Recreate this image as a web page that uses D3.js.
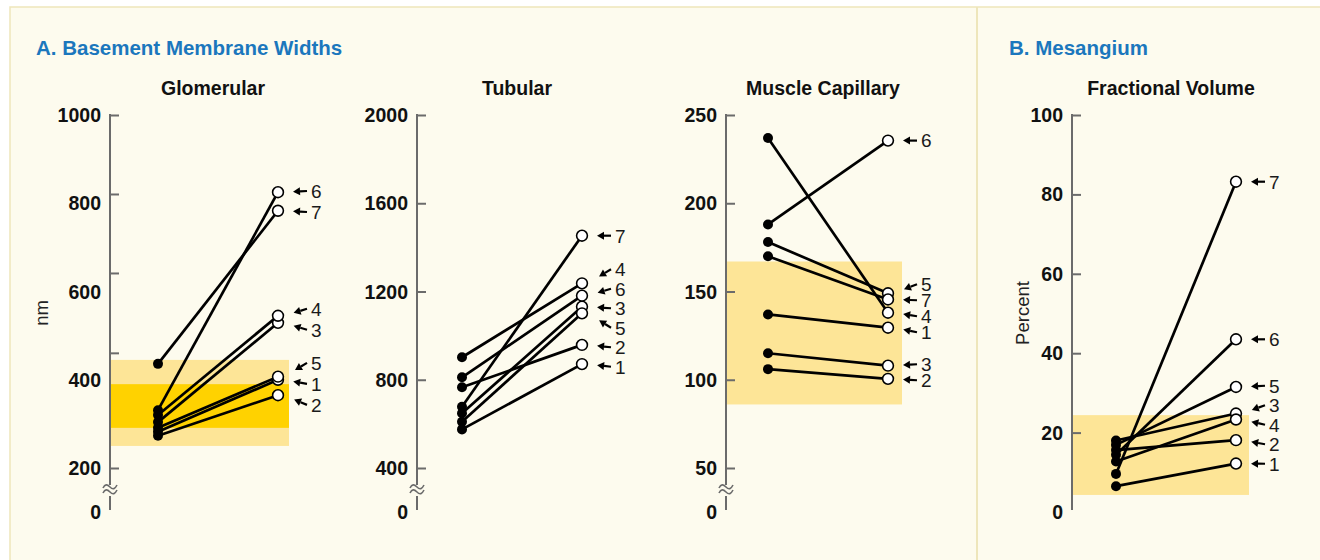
<!DOCTYPE html>
<html>
<head>
<meta charset="utf-8">
<script src="https://cdn.jsdelivr.net/npm/d3@7"></script>
<style>
  body { margin: 0; background: #fff; }
  svg { display: block; font-family: "Liberation Sans", Arial, sans-serif; }
</style>
</head>
<body>
<div id="chart"></div>
<script>
// patients 1..7, pre (filled) and post (open) values
const patients = [1, 2, 3, 4, 5, 6, 7];

const glomPre  = [282, 273, 304, 320, 291, 331, 436];
const glomPost = [400, 365, 529, 545, 407, 825, 783];

const tubPre  = [575, 766, 648, 902, 610, 811, 678];
const tubPost = [871, 958, 1131, 1237, 1101, 1181, 1453];

const musPre  = [137, 106, 115, 237, 178, 188, 170];
const musPost = [129.5, 100.5, 108, 138, 149, 235.5, 145.5];

const fracPre  = [6.5, 15.6, 18.0, 12.7, 16.9, 14.4, 9.6];
const fracPost = [12.2, 18.1, 24.8, 23.3, 31.5, 43.5, 83.2];

// tick labels and tick marks (the glomerular marks are not under their labels in the original)
const glomLabels = [1000, 800, 600, 400, 200];
const glomTicks  = [1000, 821, 642, 461, 200];
const tubLabels  = [2000, 1600, 1200, 800, 400];
const musLabels  = [250, 200, 150, 100, 50];
const fracLabels = [100, 80, 60, 40, 20];

// normal ranges (shaded)
const glomRange  = [250, 445];
const glomRange2 = [291, 390];
const musRange   = [86, 167];
const fracRange  = [4.3, 24.4];

const W = 1320, H = 560;
const yTop = 115, yLow = 468, zeroY = 512;

const svg = d3.select('#chart').append('svg')
  .attr('width', W)
  .attr('height', H);

// frame
svg.append('rect')
  .attr('x', 10).attr('y', 7)
  .attr('width', W + 10).attr('height', H)
  .attr('fill', '#fdfbee')
  .attr('stroke', '#eee6bb')
  .attr('stroke-width', 1.5);

svg.append('line')
  .attr('x1', 977).attr('x2', 977)
  .attr('y1', 7).attr('y2', H)
  .attr('stroke', '#eee6bb')
  .attr('stroke-width', 2);

svg.append('text')
  .attr('x', 36).attr('y', 55)
  .attr('fill', '#1b77bd')
  .attr('font-size', 20.5)
  .attr('font-weight', 'bold')
  .text('A. Basement Membrane Widths');

svg.append('text')
  .attr('x', 1009).attr('y', 55)
  .attr('fill', '#1b77bd')
  .attr('font-size', 20.5)
  .attr('font-weight', 'bold')
  .text('B. Mesangium');

var panels = [
  { title: 'Glomerular', axisX: 110, preX: 158, pre: glomPre, post: glomPost,
    y: d3.scaleLinear().domain([200, 1000]).range([yLow, yTop]),
    labels: glomLabels, ticks: glomTicks, broken: true, gap: 21,
    bands: [glomRange, glomRange2], bandColors: ['#fde597', '#ffd200'], bandW: 179, unit: 'nm' },
  { title: 'Tubular', axisX: 417, preX: 462, pre: tubPre, post: tubPost,
    y: d3.scaleLinear().domain([400, 2000]).range([yLow, yTop]),
    labels: tubLabels, ticks: tubLabels, broken: true, gap: 19.5, bands: [] },
  { title: 'Muscle Capillary', axisX: 726, preX: 768, pre: musPre, post: musPost,
    y: d3.scaleLinear().domain([50, 250]).range([yLow, yTop]),
    labels: musLabels, ticks: musLabels, broken: true, gap: 16,
    bands: [musRange], bandColors: ['#fde597'], bandW: 176 },
  { title: 'Fractional Volume', axisX: 1072, preX: 1116, pre: fracPre, post: fracPost,
    y: d3.scaleLinear().domain([0, 100]).range([zeroY, yTop]),
    labels: fracLabels, ticks: fracLabels, broken: false, gap: 19.5,
    bands: [fracRange], bandColors: ['#fde597'], bandW: 177, unit: 'Percent' }
];

const axisGray = '#6b6b6b';
const tickFont = 19.5;

panels.forEach(function (p) {
  const g = svg.append('g');
  const x = d3.scalePoint().domain(['pre', 'post']).range([p.preX, p.preX + 120]);
  const y = p.y;

  g.append('text')
    .attr('x', p.preX + 55).attr('y', 95)
    .attr('text-anchor', 'middle')
    .attr('font-size', 19.5)
    .attr('font-weight', 'bold')
    .attr('fill', '#111')
    .text(p.title);

  // shaded normal ranges
  p.bands.forEach(function (b, i) {
    g.append('rect')
      .attr('x', p.axisX)
      .attr('y', y(b[1]))
      .attr('width', p.bandW)
      .attr('height', y(b[0]) - y(b[1]))
      .attr('fill', p.bandColors[i]);
  });

  // axis: ticks to the right, labels on the left
  const axis = d3.axisRight(y)
    .tickValues(p.ticks)
    .tickSize(9)
    .tickFormat('');
  const ax = g.append('g')
    .attr('transform', 'translate(' + p.axisX + ',0)')
    .call(axis);
  ax.select('.domain').remove();
  ax.selectAll('.tick line').attr('stroke', axisGray).attr('stroke-width', 2);

  g.append('line')
    .attr('x1', p.axisX).attr('x2', p.axisX)
    .attr('y1', yTop - 1).attr('y2', 510)
    .attr('stroke', axisGray).attr('stroke-width', 2);

  g.selectAll('.lbl')
    .data(p.labels)
    .enter().append('text')
    .attr('x', p.axisX - 9)
    .attr('y', d => y(d))
    .attr('dy', '0.36em')
    .attr('text-anchor', 'end')
    .attr('font-size', tickFont)
    .attr('font-weight', 'bold')
    .attr('fill', '#111')
    .text(d => d);

  g.append('text')
    .attr('x', p.axisX - 9).attr('y', p.broken ? zeroY : y(0))
    .attr('dy', '0.36em')
    .attr('text-anchor', 'end')
    .attr('font-size', tickFont)
    .attr('font-weight', 'bold')
    .attr('fill', '#111')
    .text('0');

  if (p.broken) {
    // break mark
    g.append('rect')
      .attr('x', p.axisX - 3).attr('y', 485)
      .attr('width', 6).attr('height', 11)
      .attr('fill', '#fdfbee');
    [0, 5].forEach(function (dy) {
      g.append('path')
        .attr('d', 'M' + (p.axisX - 7) + ',' + (488 + dy) +
          ' c2,-4 4,-4 7,-1 s5,2 7,-2')
        .attr('fill', 'none')
        .attr('stroke', axisGray)
        .attr('stroke-width', 1.6);
    });
  }

  if (p.unit) {
    const ux = p.unit === 'nm' ? 42 : 1023;
    g.append('text')
      .attr('transform', 'translate(' + ux + ',313) rotate(-90)')
      .attr('text-anchor', 'middle')
      .attr('dy', '0.35em')
      .attr('font-size', 18.5)
      .attr('fill', '#222')
      .text(p.unit);
  }

  const rows = patients.map((id, i) => ({ id: id, pre: p.pre[i], post: p.post[i] }));

  g.selectAll('.conn')
    .data(rows)
    .enter().append('line')
    .attr('x1', x('pre')).attr('y1', d => y(d.pre))
    .attr('x2', x('post')).attr('y2', d => y(d.post))
    .attr('stroke', '#000')
    .attr('stroke-width', 2.7);

  g.selectAll('.pre')
    .data(rows)
    .enter().append('circle')
    .attr('cx', x('pre')).attr('cy', d => y(d.pre))
    .attr('r', 5)
    .attr('fill', '#000');

  g.selectAll('.post')
    .data(rows)
    .enter().append('circle')
    .attr('cx', x('post')).attr('cy', d => y(d.post))
    .attr('r', 5.4)
    .attr('fill', '#fff')
    .attr('stroke', '#000')
    .attr('stroke-width', 1.6);

  // patient labels: spread them apart, arrows point back to the circles
  const labs = rows.map(d => ({ id: d.id, cy: y(d.post), ly: y(d.post) }))
    .sort((a, b) => a.cy - b.cy);
  for (let k = 0; k < 400; k++) {
    for (let i = 0; i < labs.length - 1; i++) {
      const diff = labs[i + 1].ly - labs[i].ly;
      if (diff < p.gap) {
        const s = (p.gap - diff) / 2;
        labs[i].ly -= s;
        labs[i + 1].ly += s;
      }
    }
  }

  const cx = x('post');
  labs.forEach(function (l) {
    const tx = cx + 29, ty = l.ly;
    let vx = (cx + 6) - tx, vy = l.cy - ty;
    const len = Math.sqrt(vx * vx + vy * vy);
    vx /= len; vy /= len;
    const tipX = tx + vx * 14, tipY = ty + vy * 14;
    const bx = tipX - vx * 7, by = tipY - vy * 7;
    g.append('line')
      .attr('x1', tx).attr('y1', ty)
      .attr('x2', bx).attr('y2', by)
      .attr('stroke', '#000').attr('stroke-width', 2.2);
    g.append('path')
      .attr('d', 'M' + tipX + ',' + tipY +
        'L' + (bx - vy * 4) + ',' + (by + vx * 4) +
        'L' + (bx + vy * 4) + ',' + (by - vx * 4) + 'Z')
      .attr('fill', '#000');
    g.append('text')
      .attr('x', cx + 33).attr('y', ty)
      .attr('dy', '0.36em')
      .attr('font-size', 19)
      .attr('fill', '#1a1a1a')
      .text(l.id);
  });
});
</script>
</body>
</html>
